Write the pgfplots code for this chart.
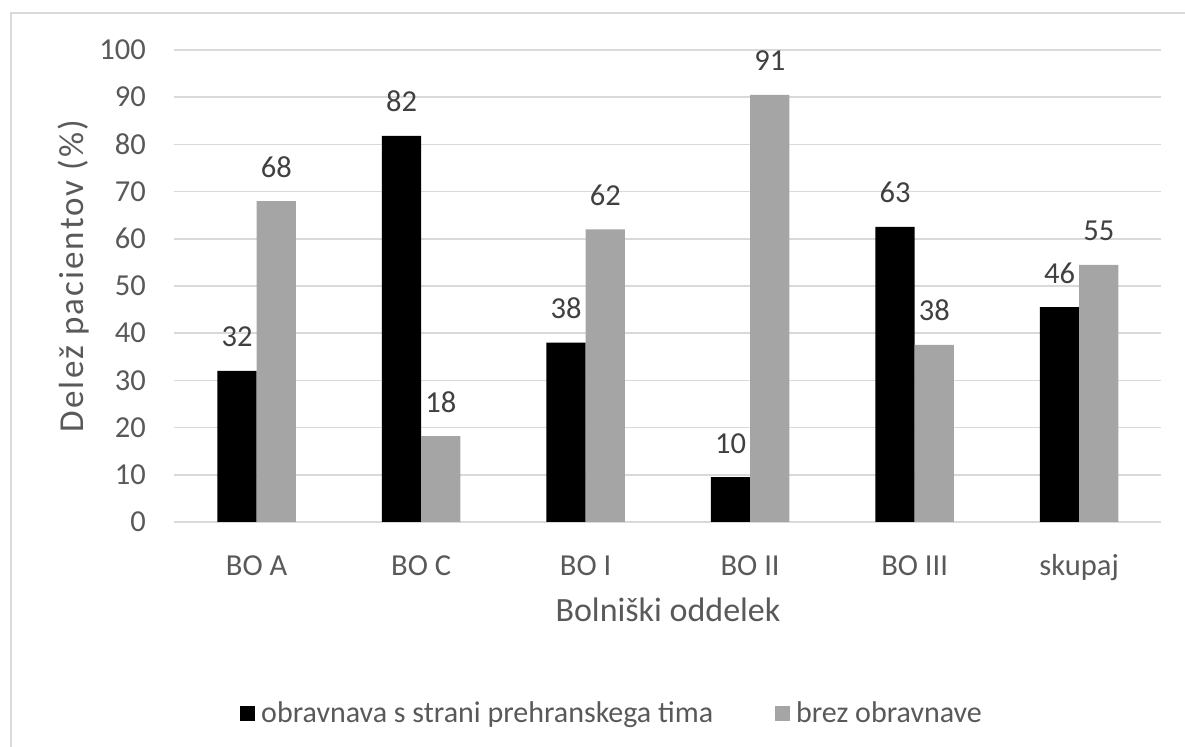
\documentclass[border=0pt]{standalone}
\usepackage{fontspec}
\setmainfont{Carlito}
\usepackage{pgfplots}
\pgfplotsset{compat=1.18}
\definecolor{gridc}{HTML}{D9D9D9}
\definecolor{txt}{HTML}{595959}
\definecolor{lbl}{HTML}{404040}
\definecolor{bargray}{HTML}{A5A5A5}
\begin{document}
\begin{tikzpicture}
\useasboundingbox (0,0) rectangle (1185bp,747bp);
\draw[gridc, line width=2bp] (10.5bp,0) -- (10.5bp,734bp) -- (1185bp,734bp);
\begin{axis}[
  at={(174.4bp,225bp)}, anchor=south west,
  scale only axis, width=987bp, height=472bp,
  xmin=-0.5, xmax=5.5, ymin=0, ymax=100,
  ybar=0pt, bar width=39.3bp,
  xtick={0,...,5}, xticklabels={BO A, BO C, BO I, BO II, BO III, skupaj},
  ytick={0,10,...,100},
  ymajorgrids, grid style={gridc, line width=1.5bp},
  axis line style={draw=none}, tick style={draw=none},
  /pgf/number format/assume math mode=true,
  tick label style={font=\fontsize{30.5bp}{36bp}\selectfont, text=txt},
  yticklabel style={anchor=east, inner sep=0pt, xshift=-28.4bp},
  xticklabel style={anchor=north, inner sep=0pt, yshift=-30bp, text height=19bp, text depth=6bp},
  nodes near coords, point meta=explicit symbolic,
  every node near coord/.append style={font=\fontsize{30.5bp}{36bp}\selectfont, text=lbl, anchor=base, inner sep=0pt, yshift=24bp},
  legend columns=2,
  legend style={draw=none, fill=none, at={(0.0665,-0.405)}, anchor=west,
    font=\fontsize{30bp}{36bp}\selectfont, text=txt, inner sep=0pt,
    /tikz/every even column/.append style={column sep=60bp}},
  legend cell align=left,
]
\addplot[fill=black, draw=none, legend image code/.code={\fill[black] (0bp,-8bp) rectangle (15bp,7bp); \path (19bp,0bp);}]
  coordinates {(0,32) [32] (1,81.8) [82] (2,38) [38] (3,9.5) [10] (4,62.5) [63] (5,45.5) [46]};
\addplot[fill=bargray, draw=none, legend image code/.code={\fill[bargray] (0bp,-8bp) rectangle (15bp,7bp); \path (19bp,0bp);}]
  coordinates {(0,68) [68] (1,18.2) [18] (2,62) [62] (3,90.5) [91] (4,37.5) [38] (5,54.5) [55]};
\legend{obravnava s strani prehranskega tima, brez obravnave}
\end{axis}
\node[rotate=90, anchor=base, font=\fontsize{35bp}{40bp}\selectfont\addfontfeatures{LetterSpace=6}, text=txt] at (83.3bp,471bp) {Delež pacientov (\%)};
\node[anchor=base, font=\fontsize{34bp}{40bp}\selectfont, text=txt] at (668bp,125bp) {Bolniški oddelek};
\end{tikzpicture}
\end{document}
